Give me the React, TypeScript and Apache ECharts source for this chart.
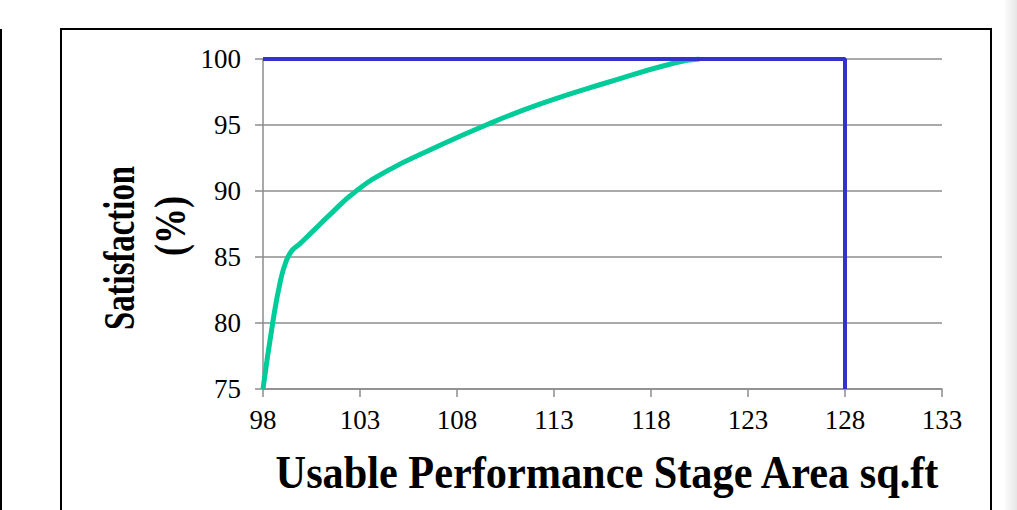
import { useEffect, useRef } from "react";
import * as echarts from "echarts";

const curveX = [98, 98.5, 98.9, 99.2, 99.5, 99.9, 100.6, 101.3, 102.8, 104.5, 106.6, 109.5, 112.3, 115.7, 119.2, 120.5];
const curveY = [75, 80, 83.2, 84.7, 85.5, 86.0, 87.0, 88, 90, 91.6, 93.1, 95, 96.6, 98.2, 99.7, 100];
const limitX = [98, 128, 128];
const limitY = [100, 100, 75];
const xTicks = [98, 103, 108, 113, 118, 123, 128, 133];
const yTicks = [75, 80, 85, 90, 95, 100];
const xTitle = "Usable Performance Stage Area sq.ft";
const yTitle1 = "Satisfaction";
const yTitle2 = "(%)";

const FONT = "'Liberation Serif', 'Times New Roman', serif";

export default function App() {
  const ref = useRef<HTMLDivElement>(null);
  useEffect(() => {
    if (!ref.current) return;
    const chart = echarts.init(ref.current, undefined, { renderer: "svg" });
    const curve = curveX.map((x, i) => [x, curveY[i]]);
    const limit = limitX.map((x, i) => [x, limitY[i]]);
    chart.setOption({
      animation: false,
      backgroundColor: "#ffffff",
      grid: { left: 263, right: 75, top: 59, bottom: 121, containLabel: false },
      xAxis: {
        type: "value",
        min: xTicks[0],
        max: xTicks[xTicks.length - 1],
        axisLine: { show: true, lineStyle: { color: "#8c8c8c", width: 1.5 } },
        axisTick: { show: true, length: 8, lineStyle: { color: "#8c8c8c", width: 1.5 }, customValues: xTicks },
        axisLabel: { customValues: xTicks, margin: 17, color: "#000", fontSize: 27, fontFamily: FONT },
        splitLine: { show: false },
      },
      yAxis: {
        type: "value",
        min: yTicks[0],
        max: yTicks[yTicks.length - 1],
        interval: 5,
        axisLine: { show: true, lineStyle: { color: "#8c8c8c", width: 1.5 } },
        axisTick: { show: true, length: 8, lineStyle: { color: "#8c8c8c", width: 1.5 } },
        axisLabel: { margin: 22, color: "#000", fontSize: 27, fontFamily: FONT },
        splitLine: { show: true, lineStyle: { color: "#8c8c8c", width: 1.5 } },
      },
      series: [
        {
          type: "line",
          data: curve,
          smooth: 0.5,
          showSymbol: false,
          lineStyle: { color: "#00CC99", width: 5 },
          z: 2,
        },
        {
          type: "line",
          data: limit,
          showSymbol: false,
          lineStyle: { color: "#3333CC", width: 4 },
          z: 3,
        },
      ],
      graphic: [
        {
          type: "rect",
          shape: { x: 61, y: 29, width: 930, height: 520 },
          style: { fill: "none", stroke: "#000", lineWidth: 2 },
          silent: true,
        },
        {
          type: "line",
          shape: { x1: 1, y1: 29, x2: 1, y2: 520 },
          style: { stroke: "#000", lineWidth: 2 },
          silent: true,
        },
        {
          type: "rect",
          shape: { x: 1003, y: 0, width: 14, height: 510 },
          style: {
            fill: new echarts.graphic.LinearGradient(0, 0, 1, 0, [
              { offset: 0, color: "#ffffff" },
              { offset: 1, color: "#e6e6e6" },
            ]),
          },
          silent: true,
        },
        {
          type: "text",
          x: 607,
          y: 472,
          scaleX: 0.9,
          style: {
            text: xTitle,
            fontFamily: FONT,
            fontWeight: "bold",
            fontSize: 47,
            fill: "#000",
            align: "center",
            verticalAlign: "middle",
          },
        },
        {
          type: "text",
          x: 119,
          y: 248,
          rotation: Math.PI / 2,
          scaleX: 0.73,
          style: {
            text: yTitle1,
            fontFamily: FONT,
            fontWeight: "bold",
            fontSize: 45,
            fill: "#000",
            align: "center",
            verticalAlign: "middle",
          },
        },
        {
          type: "text",
          x: 170,
          y: 226,
          rotation: Math.PI / 2,
          scaleX: 0.8,
          style: {
            text: yTitle2,
            fontFamily: FONT,
            fontWeight: "bold",
            fontSize: 45,
            fill: "#000",
            align: "center",
            verticalAlign: "middle",
          },
        },
      ],
    });
    return () => chart.dispose();
  }, []);
  return (
    <div
      ref={ref}
      style={{ position: "absolute", left: 0, top: 0, width: 1017, height: 510 }}
    />
  );
}
